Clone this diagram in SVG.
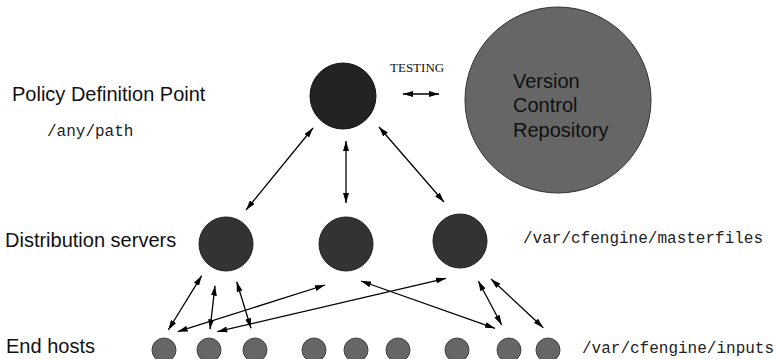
<svg xmlns="http://www.w3.org/2000/svg" width="774" height="359" viewBox="0 0 774 359">
<style>
.lbl{font-family:"Liberation Sans",Arial,sans-serif;font-size:20px;fill:#111}
.mono{font-family:"Liberation Mono","Courier New",monospace;font-size:16px;fill:#222}
.serif{font-family:"Liberation Serif","Times New Roman",serif;font-size:13px;fill:#111}
.pdp{fill:#222;stroke:#111;stroke-width:1}
.ds{fill:#333;stroke:#222;stroke-width:1}
.vc{fill:#666;stroke:#333;stroke-width:1}
.eh{fill:#666;stroke:#444;stroke-width:1}
.c{stroke:#000;stroke-width:1.3;fill:none;marker-start:url(#ah);marker-end:url(#ah)}
</style>
<defs>
<marker id="ah" viewBox="0 0 10 6" refX="10" refY="3" markerWidth="10" markerHeight="6" markerUnits="userSpaceOnUse" orient="auto-start-reverse">
<path d="M0,0 L10,3 L0,6 Z" fill="#000"/>
</marker>
</defs>
<rect width="774" height="359" fill="#fff"/>
<text class="lbl" x="12" y="101">Policy Definition Point</text>
<text class="mono" x="47" y="136">/any/path</text>
<text class="lbl" x="5" y="247">Distribution servers</text>
<text class="mono" x="523" y="243">/var/cfengine/masterfiles</text>
<text class="lbl" x="6" y="353">End hosts</text>
<text class="mono" x="582" y="353">/var/cfengine/inputs</text>
<text class="serif" x="390" y="72">TESTING</text>
<g id="vcr">
<circle class="vc" cx="558" cy="100" r="93"/>
<text class="lbl" x="513" y="88">Version</text>
<text class="lbl" x="513" y="112">Control</text>
<text class="lbl" x="513" y="137">Repository</text>
</g>
<g id="pdp"><circle class="pdp" cx="343" cy="96" r="33"/></g>
<g id="ds1"><circle class="ds" cx="226" cy="244" r="27"/></g>
<g id="ds2"><circle class="ds" cx="346" cy="244" r="27"/></g>
<g id="ds3"><circle class="ds" cx="460" cy="241" r="27"/></g>
<g id="eh1"><circle class="eh" cx="164" cy="350" r="12"/></g>
<g id="eh2"><circle class="eh" cx="209" cy="350" r="12"/></g>
<g id="eh3"><circle class="eh" cx="255" cy="350" r="12"/></g>
<g id="eh4"><circle class="eh" cx="314" cy="350" r="12"/></g>
<g id="eh5"><circle class="eh" cx="356" cy="350" r="12"/></g>
<g id="eh6"><circle class="eh" cx="398" cy="350" r="12"/></g>
<g id="eh7"><circle class="eh" cx="457" cy="350" r="12"/></g>
<g id="eh8"><circle class="eh" cx="509" cy="350" r="12"/></g>
<g id="eh9"><circle class="eh" cx="548" cy="350" r="12"/></g>
<g id="connectors">
<line class="c" x1="403" y1="94" x2="439" y2="94"/>
<line class="c" x1="313" y1="128" x2="246" y2="210"/>
<line class="c" x1="346" y1="141" x2="346" y2="203"/>
<line class="c" x1="379" y1="127" x2="444" y2="202"/>
<line class="c" x1="201.7" y1="275.7" x2="168.3" y2="330"/>
<line class="c" x1="215" y1="285.7" x2="210" y2="329.3"/>
<line class="c" x1="236.7" y1="281.7" x2="251" y2="328.3"/>
<line class="c" x1="325" y1="285" x2="177.7" y2="331.7"/>
<line class="c" x1="446" y1="278.3" x2="217.3" y2="331.7"/>
<line class="c" x1="361" y1="281" x2="495" y2="328.3"/>
<line class="c" x1="478.3" y1="281" x2="501.7" y2="325"/>
<line class="c" x1="491" y1="279" x2="543.3" y2="327.7"/>
</g>
</svg>
